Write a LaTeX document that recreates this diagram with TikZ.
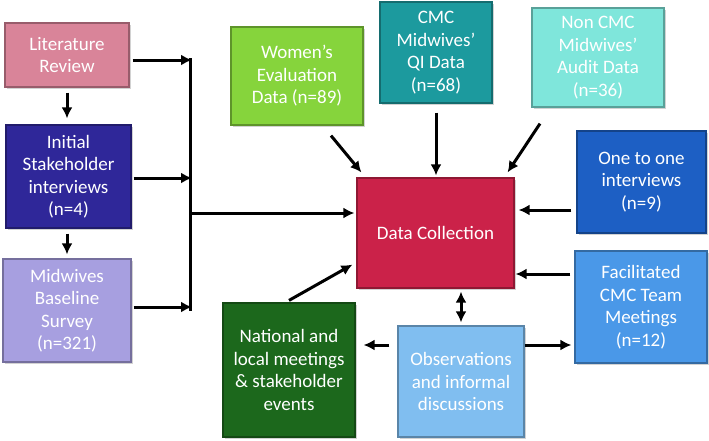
\documentclass[tikz,border=0pt]{standalone}
\usepackage{fontspec}
\setmainfont{Carlito}
\usetikzlibrary{arrows.meta,shadows,calc}
\definecolor{clit}{HTML}{D98499}
\definecolor{cinit}{HTML}{2F2799}
\definecolor{cbase}{HTML}{A79FE0}
\definecolor{cwomen}{HTML}{86D43C}
\definecolor{cqi}{HTML}{1C9A9E}
\definecolor{cnon}{HTML}{7FE6DB}
\definecolor{cone}{HTML}{1D5FC4}
\definecolor{cdc}{HTML}{CB2249}
\definecolor{cfac}{HTML}{4A98E8}
\definecolor{cnat}{HTML}{1C681C}
\definecolor{cobs}{HTML}{80BEF0}
\begin{document}
\begin{tikzpicture}[x=1pt,y=-1pt,
  box/.style={draw=#1!70!black, line width=1.2pt, fill=#1, text=white, align=center,
    font=\fontsize{19}{22.5}\selectfont, inner sep=1pt,
    drop shadow={shadow xshift=1.5pt,shadow yshift=-1.5pt,opacity=0.35}},
  arr/.style={line width=3pt, -{Latex[length=11pt,width=11pt]}},
  darr/.style={line width=3pt, {Latex[length=11pt,width=11pt]}-{Latex[length=11pt,width=11pt]}},
  bus/.style={line width=3pt}]
\fill[white] (0,0) rectangle (709,440);
\useasboundingbox (0,0) rectangle (709,440);

\node[box=clit, minimum width=124pt, minimum height=64pt] (lit) at (67,55) {Literature\\Review};
\node[box=cinit, minimum width=125pt, minimum height=103pt] (init) at (68.5,176.5) {Initial\\Stakeholder\\interviews\\(n=4)};
\node[box=cbase, minimum width=128pt, minimum height=103pt] (base) at (67,310.5) {Midwives\\Baseline\\Survey\\(n=321)};
\node[box=cwomen, minimum width=132pt, minimum height=98pt] (women) at (297,76) {Women’s\\Evaluation\\Data (n=89)};
\node[box=cqi, minimum width=112pt, minimum height=101pt] (qi) at (436,52.5) {CMC\\Midwives’\\QI Data\\(n=68)};
\node[box=cnon, minimum width=132pt, minimum height=99pt] (non) at (598,57.5) {Non CMC\\Midwives’\\Audit Data\\(n=36)};
\node[box=cone, minimum width=129pt, minimum height=102pt] (one) at (641.5,182) {One to one\\interviews\\(n=9)};
\node[box=cdc, minimum width=157pt, minimum height=110pt] (dc) at (435.5,233) {Data Collection};
\node[box=cfac, minimum width=132pt, minimum height=112pt] (fac) at (641,307) {Facilitated\\CMC Team\\Meetings\\(n=12)};
\node[box=cnat, minimum width=132pt, minimum height=134pt] (nat) at (289,370) {National and\\local meetings\\\& stakeholder\\events};
\node[box=cobs, minimum width=126pt, minimum height=111pt] (obs) at (461,381.5) {Observations\\and informal\\discussions};

% left bus
\coordinate (b1) at (192,60);
\coordinate (b2) at (192,178);
\coordinate (b3) at (192,307);
\coordinate (bm) at (190,213);
\draw[bus] (190,58) -- (190,311);
\draw[arr] ([xshift=3pt]lit.east |- b1) -- (b1);
\draw[arr] ([xshift=2pt]init.east |- b2) -- (b2);
\draw[arr] ([xshift=2pt]base.east |- b3) -- (b3);
\draw[arr, shorten >=2pt] (bm) -- (dc.west |- bm);

\draw[arr, shorten <=5pt, shorten >=6pt] (lit.south) -- (init.north -| lit.south);
\draw[arr, shorten <=5pt, shorten >=4pt] (init.south -| lit.south) -- (base.north -| lit.south);

% top arrows
\draw[arr] ($(women.south)+(34,10)$) -- ($(dc.north west)+(5,-5)$);
\draw[arr, shorten <=9pt, shorten >=2pt] (qi.south) -- (dc.north -| qi.south);
\draw[arr] ($(non.south)+(-58,16)$) -- ($(dc.north east)+(-7,-5)$);

% right arrows
\draw[arr, shorten <=5pt, shorten >=4pt] ($(one.west)+(0,28)$) -- ($(dc.east)+(0,-23)$);
\draw[arr, shorten <=4pt, shorten >=1pt] ($(fac.west)+(0,-33)$) -- ($(dc.east)+(0,41)$);

% bottom arrows
\draw[arr] ($(nat.north)+(0,-2)$) -- ($(dc.south west)+(-4,-24)$);
\draw[darr, shorten <=3pt, shorten >=3pt] (obs.north) -- (dc.south -| obs.north);
\draw[arr, shorten <=8pt, shorten >=8pt] ($(obs.west)+(0,-36.5)$) -- ($(nat.east)+(0,-25)$);
\draw[arr, shorten <=0pt, shorten >=3pt] ($(obs.east)+(0,-36.5)$) -- ($(fac.west)+(0,38)$);
\end{tikzpicture}
\end{document}
